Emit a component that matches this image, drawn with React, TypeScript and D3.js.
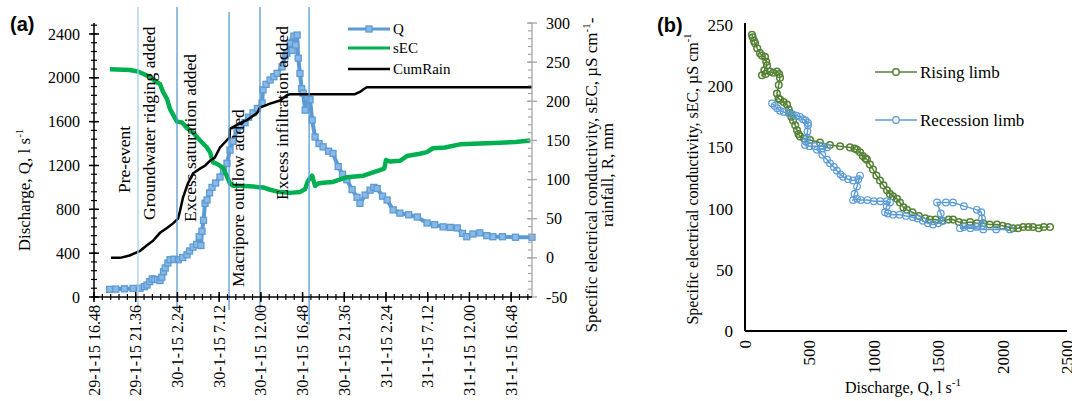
import React from "react";
import * as d3 from "d3";

// ---- panel (a): time series, hours after 29-1-15 16:48 ----
const qSeries: [number, number][] = [
  [1.8, 70], [2.5, 72], [3.5, 75], [4.5, 78], [5.3, 80], [5.8, 95], [6.1, 110], [6.4, 140],
  [6.7, 165], [7.0, 160], [7.3, 160], [7.6, 150], [7.8, 180], [8.0, 230], [8.2, 265], [8.5, 310],
  [8.75, 340], [9.2, 345], [9.7, 340], [10.2, 360], [10.7, 385], [11.0, 420], [11.4, 455],
  [11.8, 480], [12.1, 550], [12.3, 470], [12.43, 600], [12.6, 700], [12.78, 855], [13.0, 885],
  [13.3, 950], [13.58, 1000], [14.0, 1040], [14.5, 1095], [14.9, 1150], [15.3, 1220],
  [15.65, 1340], [16.0, 1420], [16.46, 1525], [16.9, 1560], [17.38, 1590], [17.8, 1640],
  [18.3, 1680], [18.8, 1720], [19.34, 1770], [19.45, 1890], [19.8, 1940], [20.26, 1980],
  [20.7, 2010], [21.07, 2040], [21.64, 2100], [22.0, 2200], [22.2, 2225], [22.56, 2315],
  [22.8, 2250], [23.0, 2380], [23.2, 2300], [23.37, 2390], [23.5, 2180], [23.7, 2040],
  [23.9, 1900], [24.06, 1860], [24.3, 1705], [24.6, 1820], [24.86, 1800], [25.1, 1615],
  [25.44, 1460], [25.9, 1400], [26.36, 1370], [27.0, 1330], [27.5, 1310], [28.1, 1190],
  [28.6, 1120], [29.1, 1070], [29.7, 980], [30.27, 910], [30.6, 855], [31.2, 930],
  [31.77, 975], [32.2, 1000], [32.58, 990], [33.2, 920], [33.73, 885], [34.42, 795],
  [35.2, 765], [36.2, 750], [37.2, 730], [38.33, 675], [39.2, 660], [40.17, 640], [41.0, 635],
  [41.8, 630], [42.4, 580], [42.9, 550], [43.6, 575], [44.4, 585], [45.2, 560], [45.9, 550],
  [47.0, 550], [48.5, 545], [50.4, 545],
];

const secSeries: [number, number][] = [
  [1.84, 241], [4.14, 240], [5.06, 238], [6.1, 233], [6.45, 231], [7.25, 224], [7.6, 222],
  [7.94, 212], [8.4, 203], [8.75, 190], [9.55, 174], [10.13, 173], [10.7, 166], [11.4, 160],
  [11.86, 154], [12.55, 146], [13.0, 141], [13.35, 135], [13.7, 122], [14.16, 120],
  [14.85, 115], [15.3, 104], [15.65, 95], [16.0, 92], [16.8, 92], [18.3, 91], [19.45, 90],
  [20.26, 87], [21.4, 84], [22.56, 83], [23.7, 84], [24.3, 88], [24.6, 98], [25.1, 105],
  [25.44, 92], [25.8, 95], [26.36, 96], [27.5, 97], [29.1, 103], [31.0, 105], [32.9, 112],
  [33.4, 114], [33.6, 125], [34.1, 123], [35.2, 124], [36.0, 130], [37.5, 133], [38.3, 135],
  [39.0, 140], [40.4, 141], [42.1, 145], [44.4, 146], [46.7, 147], [48.5, 148], [50.2, 150],
];

const rainSeries: [number, number][] = [
  [1.96, 0], [3.0, 0], [4.1, 3], [5.3, 9], [6.1, 16], [6.8, 22], [7.6, 32], [8.4, 38],
  [9.1, 44], [9.67, 50], [9.9, 60], [10.24, 77], [10.8, 95], [11.4, 108], [12.2, 114],
  [12.8, 118], [13.35, 124], [13.9, 128], [14.5, 141], [15.1, 148], [15.6, 154], [15.65, 165],
  [16.8, 172], [17.6, 176], [18.76, 185], [19.1, 192], [20.26, 197], [21.4, 201], [22.2, 208],
  [22.56, 209], [30.0, 209], [30.6, 212], [31.1, 216], [31.4, 218], [50.4, 218],
];

const eventHours = [5.06, 9.55, 15.54, 19.1, 24.75];
const eventLabels = [
  "Pre-event",
  "Groundwater ridging added",
  "Excess saturation added",
  "Macripore outflow added",
  "Excess infiltration added",
];
// label anchor: [hour of text centre, discharge value at text start]
const eventLabelAnchors: [number, number][] = [
  [3.45, 949], [6.33, 703], [11.05, 684], [16.6, 91], [21.64, 885],
];

const qTicks = [0, 400, 800, 1200, 1600, 2000, 2400];
const rightTicks = [-50, 0, 50, 100, 150, 200, 250, 300];
const timeTickHours = [0, 4.8, 9.6, 14.4, 19.2, 24, 28.8, 33.6, 38.4, 43.2, 48];

// ---- panel (b): hysteresis, [Q, sEC] ----
const risingLimb: [number, number][] = [
  [54, 242], [60, 240], [70, 237], [78, 235], [95, 231], [116, 227], [130, 225], [155, 224],
  [165, 220], [171, 217], [150, 213], [132, 209], [160, 210], [194, 212], [220, 211],
  [248, 212], [265, 210], [272, 207], [262, 201], [248, 194], [260, 190], [272, 189],
  [300, 187], [326, 185], [340, 181], [349, 178], [360, 175], [373, 172], [390, 168],
  [404, 164], [415, 161], [427, 159], [460, 157], [505, 156], [582, 154], [660, 152],
  [738, 151], [815, 150], [850, 149], [870, 148], [893, 146], [915, 143], [935, 141],
  [947, 140], [970, 136], [994, 132], [1020, 127], [1048, 123], [1075, 119], [1102, 115],
  [1125, 112], [1149, 110], [1180, 108], [1203, 105], [1230, 101], [1258, 99], [1300, 97],
  [1350, 94], [1400, 92], [1436, 91], [1480, 91], [1530, 90], [1580, 91], [1615, 91],
  [1660, 89], [1700, 88], [1747, 89], [1800, 88], [1850, 88], [1900, 87], [1956, 87],
  [2000, 86], [2040, 85], [2081, 84], [2120, 84], [2160, 85], [2200, 85], [2236, 85],
  [2280, 84], [2320, 85], [2368, 85],
];

const recessionLimb: [number, number][] = [
  [2057, 83], [1950, 83], [1850, 83], [1750, 84], [1669, 84], [1700, 85], [1800, 85],
  [1840, 86], [1840, 92], [1835, 97], [1800, 99], [1700, 102], [1615, 105], [1560, 105],
  [1491, 105], [1520, 96], [1540, 90], [1500, 88], [1460, 87], [1420, 88], [1380, 90],
  [1340, 92], [1304, 93], [1250, 94], [1200, 95], [1150, 95], [1110, 96], [1087, 97],
  [1100, 102], [1126, 105], [1100, 106], [1050, 106], [1000, 106], [950, 107], [900, 107],
  [870, 108], [839, 107], [850, 112], [870, 118], [893, 127], [880, 124], [839, 123],
  [800, 124], [761, 126], [740, 128], [714, 131], [690, 134], [660, 137], [637, 140],
  [600, 144], [559, 148], [600, 149], [637, 150], [600, 151], [540, 151], [500, 151],
  [466, 152], [470, 155], [481, 158], [485, 163], [489, 168], [489, 170], [470, 172],
  [450, 173], [427, 175], [400, 176], [370, 177], [340, 178], [300, 179], [272, 180],
  [250, 182], [230, 184], [210, 186],
];

const bXTicks = [0, 500, 1000, 1500, 2000, 2500];
const bYTicks = [0, 50, 100, 150, 200, 250];

const SERIF = "'Liberation Serif', 'Times New Roman', serif";
const SANS = "'Liberation Sans', Arial, sans-serif";
const BLUE = "#5b9bd5";
const GREEN = "#00b050";
const OLIVE = "#548235";

const T0 = new Date(2015, 0, 29, 16, 48).getTime();
const toDate = (h: number) => new Date(T0 + h * 3600e3);
const fmtTime = (d: Date) =>
  `${d.getDate()}-${d.getMonth() + 1}-15 ${d.getHours()}.${String(d.getMinutes()).padStart(2, "0")}`;

export default function App() {
  // panel (a) scales
  const x = d3.scaleTime().domain([toDate(0), toDate(50.4)]).range([94, 532]);
  const yQ = d3.scaleLinear().domain([0, 2500]).range([297, 23]);
  const yR = d3.scaleLinear().domain([-50, 300]).range([297, 23]);

  const qLine = d3.line<[number, number]>().x((d) => x(toDate(d[0]))).y((d) => yQ(d[1]));
  const rLine = d3.line<[number, number]>().x((d) => x(toDate(d[0]))).y((d) => yR(d[1]));

  // panel (b) scales
  const bx = d3.scaleLinear().domain([0, 2500]).range([745, 1067]);
  const by = d3.scaleLinear().domain([0, 250]).range([331, 25]);
  const bLine = d3.line<[number, number]>().x((d) => bx(d[0])).y((d) => by(d[1]));

  const qMinor = d3.range(0, 2500, 80);
  const rMinor = d3.range(-50, 301, 10);
  const tMinor = d3.range(0, 50.4, 0.96);

  return (
    <svg width={1072} height={401} style={{ position: "absolute", left: 0, top: 0, background: "#fff" }}
      fontFamily={SERIF} fontSize={16}>
      {/* ===== panel (a) ===== */}
      <text x={10} y={31} fontFamily={SANS} fontWeight="bold" fontSize={20}>(a)</text>

      {/* series */}
      <path d={qLine(qSeries) ?? ""} fill="none" stroke={BLUE} strokeWidth={4} />
      {qSeries.map((d, i) => (
        <rect key={"q" + i} x={x(toDate(d[0])) - 3} y={yQ(d[1]) - 3} width={6} height={6}
          fill="#8cb9e4" stroke={BLUE} strokeWidth={1.3} />
      ))}
      <path d={rLine(secSeries) ?? ""} fill="none" stroke={GREEN} strokeWidth={4.5} strokeLinejoin="round" />
      <path d={rLine(rainSeries) ?? ""} fill="none" stroke="#000" strokeWidth={2.5} />

      {/* event lines */}
      {eventHours.map((h, i) => (
        <line key={"ev" + i} x1={x(toDate(h))} x2={x(toDate(h))} y1={i === 2 ? 12 : 7} y2={i === 4 ? 325 : 310}
          stroke={i === 0 ? "#a9cbeb" : BLUE} strokeWidth={1.3} />
      ))}
      {eventLabels.map((t, i) => {
        const [h, q] = eventLabelAnchors[i];
        return (
          <text key={"el" + i} transform={`translate(${x(toDate(h))},${yQ(q)}) rotate(-90)`} dy="0.35em"
            fontSize={17.5}>
            {t}
          </text>
        );
      })}

      {/* left axis */}
      <line x1={94} x2={94} y1={23} y2={297} stroke="#000" strokeWidth={1.5} />
      {qMinor.map((v) => (
        <line key={"qm" + v} x1={91} x2={97} y1={yQ(v)} y2={yQ(v)} stroke="#000" strokeWidth={1.2} />
      ))}
      {qTicks.map((v) => (
        <g key={"qt" + v}>
          <line x1={89} x2={99} y1={yQ(v)} y2={yQ(v)} stroke="#000" strokeWidth={1.5} />
          <text x={80} y={yQ(v)} dy="0.35em" textAnchor="end">{v}</text>
        </g>
      ))}
      <text transform={`translate(30,190) rotate(-90)`} textAnchor="middle" fontSize={17}>
        Discharge, Q, l s<tspan dy="-7" fontSize={11}>-1</tspan>
      </text>

      {/* right axis */}
      <line x1={532} x2={532} y1={23} y2={297} stroke="#a6a6a6" strokeWidth={1.3} />
      {rMinor.map((v) => (
        <line key={"rm" + v} x1={528} x2={532} y1={yR(v)} y2={yR(v)} stroke="#a6a6a6" strokeWidth={1.2} />
      ))}
      {rightTicks.map((v) => (
        <g key={"rt" + v}>
          <line x1={527} x2={537} y1={yR(v)} y2={yR(v)} stroke="#a6a6a6" strokeWidth={1.3} />
          <text x={546} y={yR(v)} dy="0.35em">{v}</text>
        </g>
      ))}
      <text transform={`translate(597,175) rotate(-90)`} textAnchor="middle" fontSize={17}>
        Specific electrical conductivity, sEC, µS cm<tspan dy="-7" fontSize={11}>-1</tspan><tspan dy="7">-</tspan>
      </text>
      <text transform={`translate(613,175) rotate(-90)`} textAnchor="middle" fontSize={17}>rainfall, R, mm</text>

      {/* bottom axis */}
      <line x1={94} x2={532} y1={297} y2={297} stroke="#000" strokeWidth={1.5} />
      {tMinor.map((h) => (
        <line key={"tm" + h} x1={x(toDate(h))} x2={x(toDate(h))} y1={294} y2={300} stroke="#000" strokeWidth={1.2} />
      ))}
      {timeTickHours.map((h) => {
        const px = x(toDate(h));
        return (
          <g key={"tt" + h}>
            <line x1={px} x2={px} y1={292} y2={302} stroke="#000" strokeWidth={1.5} />
            <text transform={`translate(${px},305) rotate(-90)`} dy="0.35em" textAnchor="end">
              {fmtTime(toDate(h))}
            </text>
          </g>
        );
      })}

      {/* legend (a) */}
      <line x1={348} x2={390} y1={29} y2={29} stroke={BLUE} strokeWidth={3} />
      <rect x={366} y={26} width={6} height={6} fill="#8cb9e4" stroke={BLUE} strokeWidth={1.3} />
      <text x={393} y={29} dy="0.35em" fontSize={15}>Q</text>
      <line x1={348} x2={390} y1={48} y2={48} stroke={GREEN} strokeWidth={3} />
      <text x={393} y={48} dy="0.35em" fontSize={15}>sEC</text>
      <line x1={348} x2={390} y1={69} y2={69} stroke="#000" strokeWidth={2.5} />
      <text x={393} y={69} dy="0.35em" fontSize={15}>CumRain</text>

      {/* ===== panel (b) ===== */}
      <text x={657} y={32} fontFamily={SANS} fontWeight="bold" fontSize={20}>(b)</text>

      <path d={bLine(risingLimb) ?? ""} fill="none" stroke={OLIVE} strokeWidth={1.5} />
      {risingLimb.map((d, i) => (
        <circle key={"ri" + i} cx={bx(d[0])} cy={by(d[1])} r={3.3} fill="none" stroke={OLIVE} strokeWidth={1.5} />
      ))}
      <path d={bLine(recessionLimb) ?? ""} fill="none" stroke={BLUE} strokeWidth={1.5} />
      {recessionLimb.map((d, i) => (
        <circle key={"re" + i} cx={bx(d[0])} cy={by(d[1])} r={3.3} fill="none" stroke={BLUE} strokeWidth={1.2} />
      ))}

      <line x1={745} x2={745} y1={23} y2={331} stroke="#000" strokeWidth={2} />
      <line x1={745} x2={1067} y1={331} y2={331} stroke="#000" strokeWidth={2} />
      {bYTicks.map((v) => (
        <text key={"by" + v} x={733} y={by(v)} dy="0.35em" textAnchor="end" fontSize={17}>{v}</text>
      ))}
      {bXTicks.map((v) => (
        <text key={"bx" + v} transform={`translate(${bx(v)},340) rotate(-90)`} dy="0.35em" textAnchor="end" fontSize={17}>{v}</text>
      ))}
      <text x={903} y={393} textAnchor="middle">
        Discharge, Q, l s<tspan dy="-7" fontSize={11}>-1</tspan>
      </text>
      <text transform={`translate(698,179) rotate(-90)`} textAnchor="middle" fontSize={16}>
        Specific electrical conductivity, sEC, µS cm<tspan dy="-7" fontSize={10.5}>-1</tspan>
      </text>

      {/* legend (b) */}
      <line x1={875} x2={917} y1={72} y2={72} stroke={OLIVE} strokeWidth={1.5} />
      <circle cx={896} cy={72} r={3.3} fill="#fff" stroke={OLIVE} strokeWidth={1.5} />
      <text x={920} y={72} dy="0.35em" fontSize={17}>Rising limb</text>
      <line x1={875} x2={917} y1={120} y2={120} stroke={BLUE} strokeWidth={1.5} />
      <circle cx={896} cy={120} r={3.3} fill="#fff" stroke={BLUE} strokeWidth={1.2} />
      <text x={920} y={120} dy="0.35em" fontSize={17}>Recession limb</text>
    </svg>
  );
}
